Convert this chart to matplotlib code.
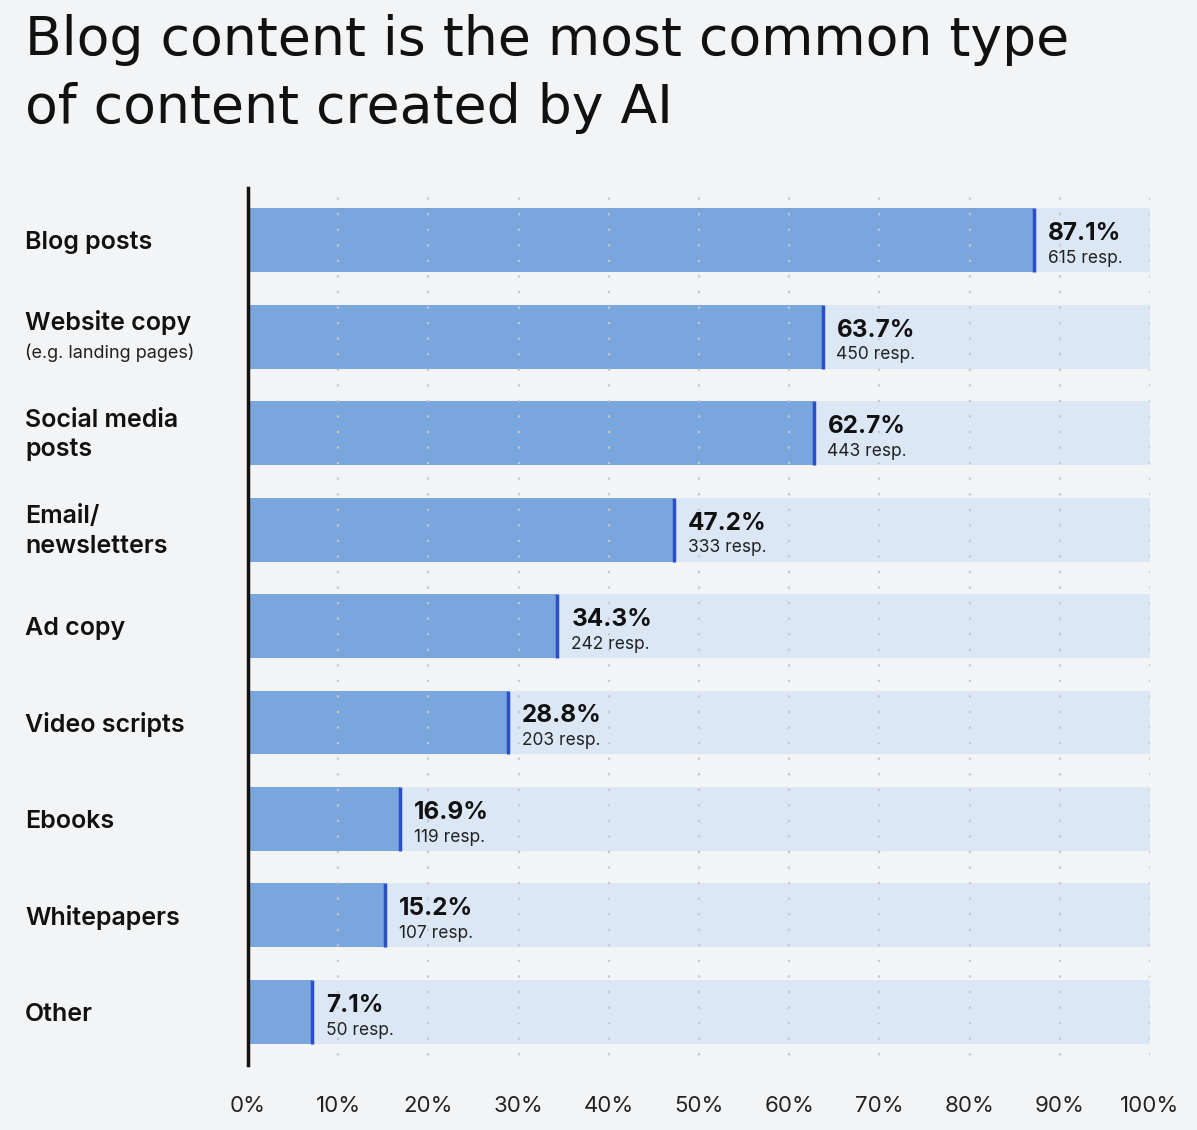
import matplotlib.pyplot as plt
import numpy as np

categories = ["Blog posts", "Website copy", "Social media\nposts", "Email/\nnewsletters",
              "Ad copy", "Video scripts", "Ebooks", "Whitepapers", "Other"]
sublabels = ["", "(e.g. landing pages)", "", "", "", "", "", "", ""]
percent = [87.1, 63.7, 62.7, 47.2, 34.3, 28.8, 16.9, 15.2, 7.1]
responses = [615, 450, 443, 333, 242, 203, 119, 107, 50]
xticks = [0, 10, 20, 30, 40, 50, 60, 70, 80, 90, 100]

BG = "#f3f4f6"
BAR = "#79a6dc"
TRACK = "#dbe7f5"
EDGE = "#2a4fc9"
GRID = "#c4c9d0"

plt.rcParams['font.family'] = ['Inter', 'DejaVu Sans']

fig = plt.figure(figsize=(11.97, 11.30), dpi=100, facecolor=BG)
ax = fig.add_axes([248 / 1197, 1 - 1065 / 1130, 902 / 1197, (1065 - 188) / 1130])
ax.set_facecolor(BG)

y = np.arange(len(categories))
h = 0.663

ax.barh(y, [100] * len(y), height=h, color=TRACK, zorder=1)
ax.barh(y, percent, height=h, color=BAR, zorder=2)
ax.vlines(percent, y - h / 2, y + h / 2, color=EDGE, lw=2.5, zorder=3)
ax.vlines(xticks[1:], -0.6, 8.6, color=GRID, lw=1.6, linestyles=(0, (1, 6)), zorder=4)

for yi, p, r in zip(y, percent, responses):
    ax.annotate(f"{p}%", (p, yi), xytext=(10, 0), textcoords="offset points",
                ha="left", va="baseline", fontsize=17.5, fontweight="bold", color="#111111", zorder=5)
    ax.annotate(f"{r} resp.", (p, yi), xytext=(10, -16.5), textcoords="offset points",
                ha="left", va="baseline", fontsize=12.5, color="#222222", zorder=5)

lx = 25 * 0.72
for yi, cat, sub in zip(y, categories, sublabels):
    if sub:
        ax.annotate(cat, (0, yi), xycoords=("figure fraction", "data"), xytext=(lx, 10),
                    textcoords="offset points", ha="left", va="center", fontsize=18,
                    fontweight="semibold", color="#111111")
        ax.annotate(sub, (0, yi), xycoords=("figure fraction", "data"), xytext=(lx, -12),
                    textcoords="offset points", ha="left", va="center", fontsize=13,
                    color="#222222")
    else:
        ax.annotate(cat, (0, yi), xycoords=("figure fraction", "data"), xytext=(lx, -1.5),
                    textcoords="offset points", ha="left", va="center", fontsize=18,
                    fontweight="semibold", color="#111111", linespacing=1.35)

ax.set_xlim(0, 100)
ax.set_ylim(8.55, -0.54)
ax.set_xticks(xticks)
ax.set_xticklabels([f"{t}%" for t in xticks], fontsize=16, color="#222222")
ax.set_yticks([])
ax.tick_params(axis="x", length=0, pad=22)
for s in ["top", "right", "bottom"]:
    ax.spines[s].set_visible(False)
ax.spines["left"].set_linewidth(2.5)
ax.spines["left"].set_color("#111111")
ax.spines["left"].set_zorder(6)

fig.text(25 / 1197, 1 - 14 / 1130, "Blog content is the most common type\nof content created by AI",
         ha="left", va="top", fontsize=38.6, color="#111111", family="DejaVu Sans", linespacing=1.4)

fig.savefig("out.png", dpi=100, facecolor=BG)
